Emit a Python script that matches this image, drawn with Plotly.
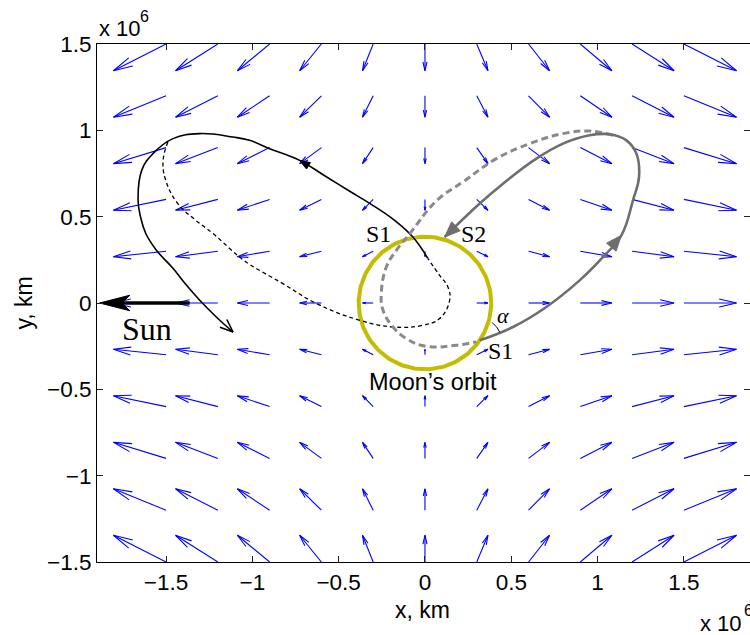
import numpy as np
import plotly.graph_objects as go

# ---------------------------------------------------------------------------
# Data (distances in units of 1e6 km)
# ---------------------------------------------------------------------------
# Quiver grid of the perturbing acceleration field
grid_x = [-1.5, -1.2, -0.9, -0.6, -0.3, 0.0, 0.3, 0.6, 0.9, 1.2, 1.5]
grid_y = [-1.5, -1.2, -0.9, -0.6, -0.3, 0.0, 0.3, 0.6, 0.9, 1.2, 1.5]
# x-component per grid column, y-component per grid row (scaled arrow lengths)
field_u = [-0.305, -0.245, -0.187, -0.126, -0.062, 0.0, 0.065, 0.122, 0.183, 0.243, 0.305]
field_v = [0.155, 0.124, 0.093, 0.063, 0.032, 0.0, -0.032, -0.063, -0.093, -0.124, -0.155]

moon_orbit_radius = 0.384

# Trajectory 1 (black): outbound leg after S1 (solid) and earlier leg (dashed)
black_solid_x = [0.016, -0.070, -0.176, -0.320, -0.436, -0.581, -0.726, -0.900, -1.016,
                 -1.112, -1.305, -1.460, -1.576, -1.641, -1.662, -1.647, -1.618, -1.556,
                 -1.460, -1.386, -1.305, -1.209, -1.112]
black_solid_y = [0.259, 0.382, 0.479, 0.577, 0.647, 0.737, 0.826, 0.894, 0.942,
                 0.961, 0.981, 0.952, 0.865, 0.768, 0.595, 0.496, 0.404, 0.306,
                 0.201, 0.108, 0.016, -0.081, -0.168]
black_dash_x = [-1.489, -1.517, -1.502, -1.433, -1.335, -1.230, -1.074, -1.016, -0.823,
                -0.629, -0.378, -0.185, -0.012, 0.085, 0.143, 0.133, 0.085, 0.016]
black_dash_y = [0.932, 0.826, 0.711, 0.577, 0.485, 0.404, 0.266, 0.224, 0.112,
                -0.003, -0.100, -0.139, -0.129, -0.090, 0.016, 0.093, 0.160, 0.259]

# Trajectory 2 (grey): S1 -> S2 loop (solid) and the return leg (dashed)
grey_solid_x = [0.317, 0.510, 0.703, 0.896, 1.031, 1.138, 1.205, 1.240, 1.225, 1.167,
                1.070, 0.954, 0.800, 0.645, 0.452, 0.317, 0.114]
grey_solid_y = [-0.216, -0.139, -0.023, 0.131, 0.266, 0.392, 0.595, 0.730, 0.865, 0.942,
                0.977, 0.971, 0.923, 0.836, 0.691, 0.576, 0.382]
grey_dash_x = [1.089, 0.954, 0.800, 0.607, 0.414, 0.220, 0.070, -0.088, -0.166, -0.224,
               -0.253, -0.243, -0.185, -0.108, 0.008, 0.181, 0.298]
grey_dash_y = [0.971, 0.996, 0.981, 0.923, 0.836, 0.701, 0.595, 0.402, 0.305, 0.208,
               0.054, -0.042, -0.139, -0.206, -0.251, -0.245, -0.225]

# Arrow pointing towards the Sun
sun_arrow_x = [-1.363, -1.885]
sun_arrow_y = [0.0, 0.0]

x_ticks = [-1.5, -1.0, -0.5, 0.0, 0.5, 1.0, 1.5]
x_tick_text = ["\u22121.5", "\u22121", "\u22120.5", "0", "0.5", "1", "1.5"]
y_ticks = [-1.5, -1.0, -0.5, 0.0, 0.5, 1.0, 1.5]
y_tick_text = ["\u22121.5", "\u22121", "\u22120.5", "0", "0.5", "1", "1.5"]

# ---------------------------------------------------------------------------
# Geometry helpers
# ---------------------------------------------------------------------------
def quiver_segments(xs, ys, us, vs, alpha=0.33, beta=0.23):
    """Shaft + two barbs per arrow, joined with None breaks."""
    px, py = [], []
    for j, y0 in enumerate(ys):
        for i, x0 in enumerate(xs):
            u, v = us[i], vs[j]
            x1, y1 = x0 + u, y0 + v
            px += [x0, x1, None]
            py += [y0, y1, None]
            px += [x1 - alpha * (u + beta * v), x1, x1 - alpha * (u - beta * v), None]
            py += [y1 - alpha * (v - beta * u), y1, y1 - alpha * (v + beta * u), None]
    return px, py


def head_polygon(tip, prev, length, half_w, notch=0.0):
    tip = np.asarray(tip, float)
    d = tip - np.asarray(prev, float)
    d /= np.linalg.norm(d)
    n = np.array([-d[1], d[0]])
    base = tip - d * length
    p1 = base + n * half_w
    p2 = base - n * half_w
    pn = tip - d * (length - notch)
    pts = [tip, p1, pn, p2, tip]
    return [p[0] for p in pts], [p[1] for p in pts]


def open_head(tip, prev, length, half_w):
    tip = np.asarray(tip, float)
    d = tip - np.asarray(prev, float)
    d /= np.linalg.norm(d)
    n = np.array([-d[1], d[0]])
    base = tip - d * length
    p1 = base + n * half_w
    p2 = base - n * half_w
    return [p1[0], tip[0], p2[0]], [p1[1], tip[1], p2[1]]


fig = go.Figure()

# Vector field
qx, qy = quiver_segments(grid_x, grid_y, field_u, field_v)
fig.add_trace(go.Scatter(x=qx, y=qy, mode="lines",
                         line=dict(color="#0000ff", width=1.1), hoverinfo="skip"))

# Moon's orbit
th = np.linspace(0, 2 * np.pi, 241)
fig.add_trace(go.Scatter(x=moon_orbit_radius * np.cos(th), y=moon_orbit_radius * np.sin(th),
                         mode="lines", line=dict(color="#c4bc00", width=4), hoverinfo="skip"))

# Trajectories
fig.add_trace(go.Scatter(x=black_dash_x, y=black_dash_y, mode="lines",
                         line=dict(color="black", width=1.3, dash="4px,3px",
                                   shape="spline", smoothing=1.2),
                         hoverinfo="skip"))
fig.add_trace(go.Scatter(x=black_solid_x, y=black_solid_y, mode="lines",
                         line=dict(color="black", width=1.6, shape="spline", smoothing=1.2),
                         hoverinfo="skip"))
fig.add_trace(go.Scatter(x=grey_dash_x, y=grey_dash_y, mode="lines",
                         line=dict(color="#8a8a8a", width=3, dash="7px,4px",
                                   shape="spline", smoothing=1.2),
                         hoverinfo="skip"))
fig.add_trace(go.Scatter(x=grey_solid_x, y=grey_solid_y, mode="lines",
                         line=dict(color="#6e6e6e", width=2.6, shape="spline", smoothing=1.2),
                         hoverinfo="skip"))

# Arrowheads on trajectories
k = 6
hx, hy = head_polygon((black_solid_x[k], black_solid_y[k]),
                      (black_solid_x[k - 1], black_solid_y[k - 1]), 0.06, 0.022)
fig.add_trace(go.Scatter(x=hx, y=hy, mode="lines", fill="toself", fillcolor="black",
                         line=dict(color="black", width=1), hoverinfo="skip"))
ox, oy = open_head((black_solid_x[-1], black_solid_y[-1]),
                   (black_solid_x[-2], black_solid_y[-2]), 0.075, 0.03)
fig.add_trace(go.Scatter(x=ox, y=oy, mode="lines",
                         line=dict(color="black", width=1.6), hoverinfo="skip"))
for k in (5, len(grey_solid_x) - 1):
    hx, hy = head_polygon((grey_solid_x[k], grey_solid_y[k]),
                          (grey_solid_x[k - 1], grey_solid_y[k - 1]), 0.09, 0.036)
    fig.add_trace(go.Scatter(x=hx, y=hy, mode="lines", fill="toself", fillcolor="#6e6e6e",
                             line=dict(color="#6e6e6e", width=1), hoverinfo="skip"))

# Angle alpha between the Moon's orbit and the departure direction at S1
s1 = np.array([grey_solid_x[0], grey_solid_y[0]])
a_orbit = np.arctan2(s1[1], s1[0]) + np.pi / 2
a_traj = np.arctan2(grey_solid_y[1] - s1[1], grey_solid_x[1] - s1[0])
aa = np.linspace(a_traj, a_orbit, 30)
fig.add_trace(go.Scatter(x=s1[0] + 0.125 * np.cos(aa), y=s1[1] + 0.125 * np.sin(aa),
                         mode="lines", line=dict(color="black", width=1), hoverinfo="skip"))

# Sun direction arrow
fig.add_trace(go.Scatter(x=[sun_arrow_x[0], sun_arrow_x[1] + 0.12], y=sun_arrow_y,
                         mode="lines", line=dict(color="black", width=3.5), hoverinfo="skip"))
hx, hy = head_polygon((sun_arrow_x[1], sun_arrow_y[1]), (sun_arrow_x[0], sun_arrow_y[0]),
                      0.175, 0.045, notch=0.045)
fig.add_trace(go.Scatter(x=hx, y=hy, mode="lines", fill="toself", fillcolor="black",
                         line=dict(color="black", width=1), hoverinfo="skip"))

# keeps the right-hand tick axis alive
fig.add_trace(go.Scatter(x=[None], y=[None], yaxis="y2", hoverinfo="skip"))

SANS = "Liberation Sans, Arial, sans-serif"
SERIF = "Liberation Serif, Times New Roman, serif"


def label(text, x, y, ref, size, family, anchor="center", angle=0):
    return dict(text=text, x=x, y=y, xref=ref[0], yref=ref[1], showarrow=False,
                xanchor=anchor, yanchor="middle", textangle=angle,
                font=dict(family=family, size=size, color="black"))


data_ref = ("x", "y")
paper_ref = ("paper", "paper")
annotations = [
    label("Sun", -1.61, -0.152, data_ref, 32, SERIF),
    label("S1", -0.268, 0.402, data_ref, 24, SERIF),
    label("S2", 0.280, 0.402, data_ref, 24, SERIF),
    label("S1", 0.437, -0.279, data_ref, 24, SERIF),
    label("<i>\u03b1</i>", 0.452, -0.075, data_ref, 22, SERIF),
    label("Moon\u2019s orbit", 0.047, -0.459, data_ref, 23.5, SANS),
    # axis titles
    label("y, km", -0.1118, 0.501, paper_ref, 23, SANS, angle=-90),
    label("x, km", 0.4992, -0.0927, paper_ref, 23, SANS),
    # exponent markers
    label("x 10", 0.0, 1.029, paper_ref, 22, SANS, anchor="left"),
    label("6", 0.0632, 1.054, paper_ref, 16, SANS, anchor="left"),
    label("x 10", 0.920, -0.1187, paper_ref, 22, SANS, anchor="left"),
    label("6", 0.988, -0.0927, paper_ref, 16, SANS, anchor="left"),
]

axis_common = dict(showgrid=False, zeroline=False, ticks="inside", ticklen=6,
                   tickcolor="#222222", tickwidth=1,
                   tickfont=dict(family=SANS, size=22.5, color="black"))

fig.update_layout(
    width=750, height=635,
    margin=dict(l=97, r=0, t=44, b=73, autoexpand=False),
    paper_bgcolor="white", plot_bgcolor="white",
    showlegend=False, hovermode=False,
    xaxis=dict(range=[-1.9, 1.883], tickvals=x_ticks, ticktext=x_tick_text,
               showline=True, linecolor="black", linewidth=1, mirror="ticks", **axis_common),
    yaxis=dict(range=[-1.5, 1.5], tickvals=y_ticks, ticktext=y_tick_text,
               showline=True, linecolor="black", linewidth=1, mirror=False, **axis_common),
    yaxis2=dict(range=[-1.5, 1.5], tickvals=y_ticks, overlaying="y", side="right",
                anchor="x", showticklabels=False, showline=False, showgrid=False,
                zeroline=False, ticks="inside", ticklen=6, tickcolor="#222222"),
    annotations=annotations,
)

fig.write_html("out.html")
